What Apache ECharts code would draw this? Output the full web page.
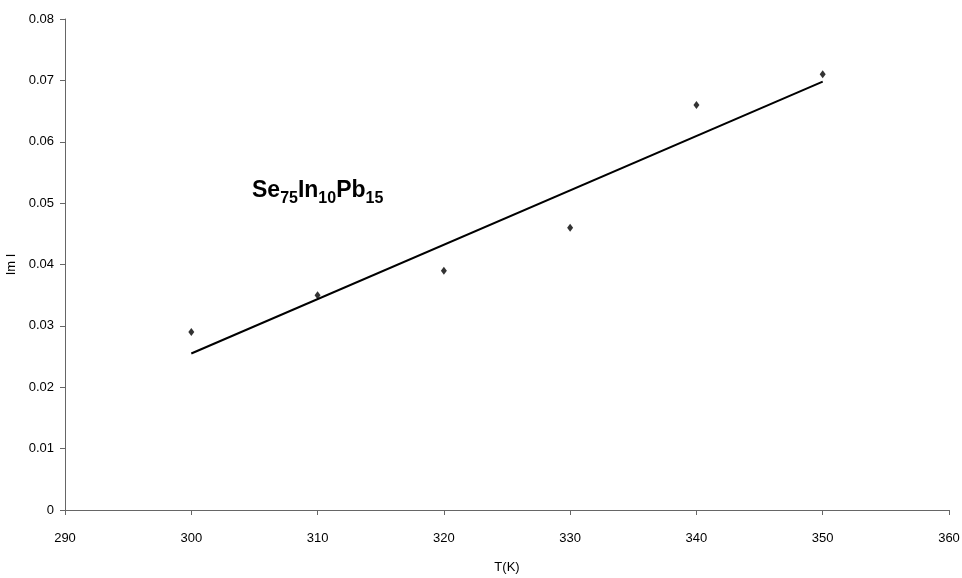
<!DOCTYPE html>
<html>
<head>
<meta charset="utf-8">
<script src="https://cdn.jsdelivr.net/npm/echarts@6/dist/echarts.min.js"></script>
<style>html,body{margin:0;padding:0;background:#fff}#c{width:962px;height:578px}</style>
</head>
<body>
<div id="c"></div>
<script>
var temperatures = [300, 310, 320, 330, 340, 350];
var imValues = [0.029, 0.035, 0.039, 0.046, 0.066, 0.071];
var trendX = [300, 350];
var trendY = [0.0255, 0.0698];

var chart = echarts.init(document.getElementById('c'));
var axisColor = '#666';
var ff = 'Liberation Sans, Arial, sans-serif';
chart.setOption({
  animation: false,
  backgroundColor: '#fff',
  textStyle: { fontFamily: ff },
  grid: { left: 65, right: 13, top: 19, bottom: 68, containLabel: false, outerBoundsMode: 'none' },
  xAxis: {
    type: 'value', min: 290, max: 360, interval: 10,
    name: 'T(K)', nameLocation: 'middle', nameGap: 51,
    nameTextStyle: { color: '#000', fontSize: 13 },
    axisLine: { show: true, lineStyle: { color: axisColor, width: 1 } },
    axisTick: { show: true, length: 5, lineStyle: { color: axisColor } },
    axisLabel: { color: '#000', fontSize: 13, margin: 22 },
    splitLine: { show: false }
  },
  yAxis: {
    type: 'value', min: 0, max: 0.08, interval: 0.01,
    name: 'Im I', nameLocation: 'middle', nameGap: 38,
    nameTextStyle: { color: '#000', fontSize: 13 },
    axisLine: { show: true, lineStyle: { color: axisColor, width: 1 } },
    axisTick: { show: true, length: 5, lineStyle: { color: axisColor } },
    axisLabel: { color: '#000', fontSize: 13, margin: 11,
      formatter: function (v) { return v === 0 ? '0' : v.toFixed(2); } },
    splitLine: { show: false }
  },
  graphic: [{
    type: 'text', left: 252, top: 179,
    style: {
      text: '{b|Se}{s|75}{b|In}{s|10}{b|Pb}{s|15}',
      rich: {
        b: { fontSize: 23, fontWeight: 'bold', fill: '#000', fontFamily: ff, verticalAlign: 'bottom', lineHeight: 28 },
        s: { fontSize: 16, fontWeight: 'bold', fill: '#000', fontFamily: ff, verticalAlign: 'bottom', lineHeight: 20, padding: [0,0,-5,0] }
      }
    }
  }],
  series: [
    {
      type: 'line',
      data: trendX.map(function (x, i) { return [x, trendY[i]]; }),
      symbol: 'none',
      lineStyle: { color: '#000', width: 2 },
      z: 2
    },
    {
      type: 'scatter',
      data: temperatures.map(function (x, i) { return [x, imValues[i]]; }),
      symbol: 'diamond', symbolSize: [6, 8],
      itemStyle: { color: '#000' },
      z: 3
    }
  ]
});
</script>
</body>
</html>
